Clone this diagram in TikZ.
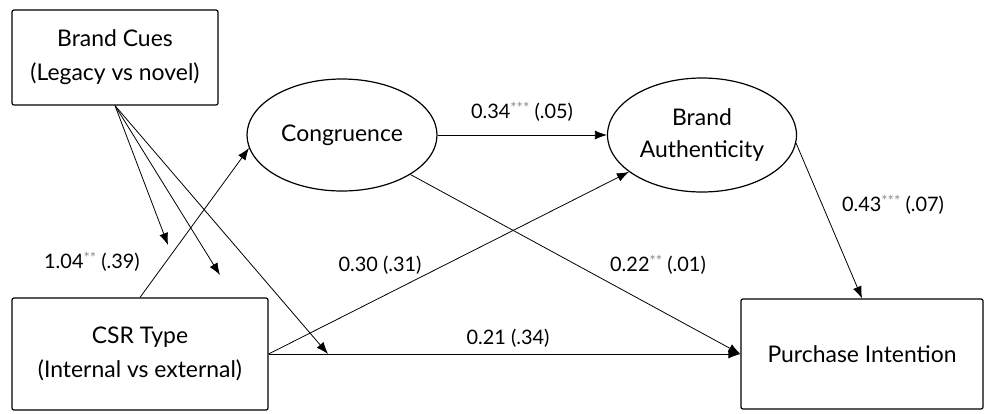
\documentclass[tikz,border=0pt]{standalone}
\usepackage{fontspec}
\setmainfont{Lato}
\usetikzlibrary{shapes.geometric,arrows.meta}
\newcommand{\stars}[1]{\raisebox{0.55ex}{\fontsize{15}{15}\selectfont\textcolor{black!45}{#1}}}
\begin{document}
\begin{tikzpicture}[x=1bp,y=-1bp,
  box/.style={draw,line width=1.2bp,rounded corners=2bp,align=center,inner sep=0pt,font=\fontsize{23}{34}\selectfont},
  oval/.style={draw,ellipse,line width=1.2bp,align=center,inner sep=0pt,font=\fontsize{23}{33}\selectfont},
  arr/.style={line width=0.8bp,-{Latex[length=12bp,width=9bp]}},
  lbl/.style={font=\fontsize{20}{24}\selectfont,inner sep=0pt}]
\useasboundingbox (0,0) rectangle (985,413);
\node[box,minimum width=206bp,minimum height=95bp] (bc) at (115,57.5) {Brand Cues\\(Legacy vs novel)};
\node[box,minimum width=256bp,minimum height=112bp] (csr) at (140,354) {CSR Type\\(Internal vs external)};
\node[box,minimum width=242bp,minimum height=110bp] (pi) at (862,354) {Purchase Intention};
\node[oval,minimum width=190bp,minimum height=112bp] (cong) at (342,135) {Congruence};
\node[oval,minimum width=189bp,minimum height=114bp] (ba) at (702,135) {Brand\\Authenticity};
\coordinate (m1) at (168,245);
\coordinate (m2) at (220,275);
\coordinate (m3) at (328,354);
\draw[arr] (cong.east) -- (ba.west);
\draw[arr] (csr.north) -- (cong.188);
\draw[arr] (csr.east) -- (ba);
\draw[arr] (csr.east) -- (pi.west);
\draw[arr] (cong.330) -- (pi.west);
\draw[arr] (ba.-5) -- (pi.north);
\draw[arr] (bc.south) -- (m1);
\draw[arr] (bc.south) -- (m2);
\draw[arr] (bc.south) -- (m3);
\node[lbl] (l1) at (522,112) {0.34\stars{***} (.05)};
\node[lbl] (l2) at (92,262) {1.04\stars{**} (.39)};
\node[lbl] (l3) at (380,265) {0.30 (.31)};
\node[lbl] (l4) at (658,265) {0.22\stars{**} (.01)};
\node[lbl] (l5) at (893,205) {0.43\stars{***} (.07)};
\node[lbl] (l6) at (508,338) {0.21 (.34)};
\end{tikzpicture}
\end{document}
